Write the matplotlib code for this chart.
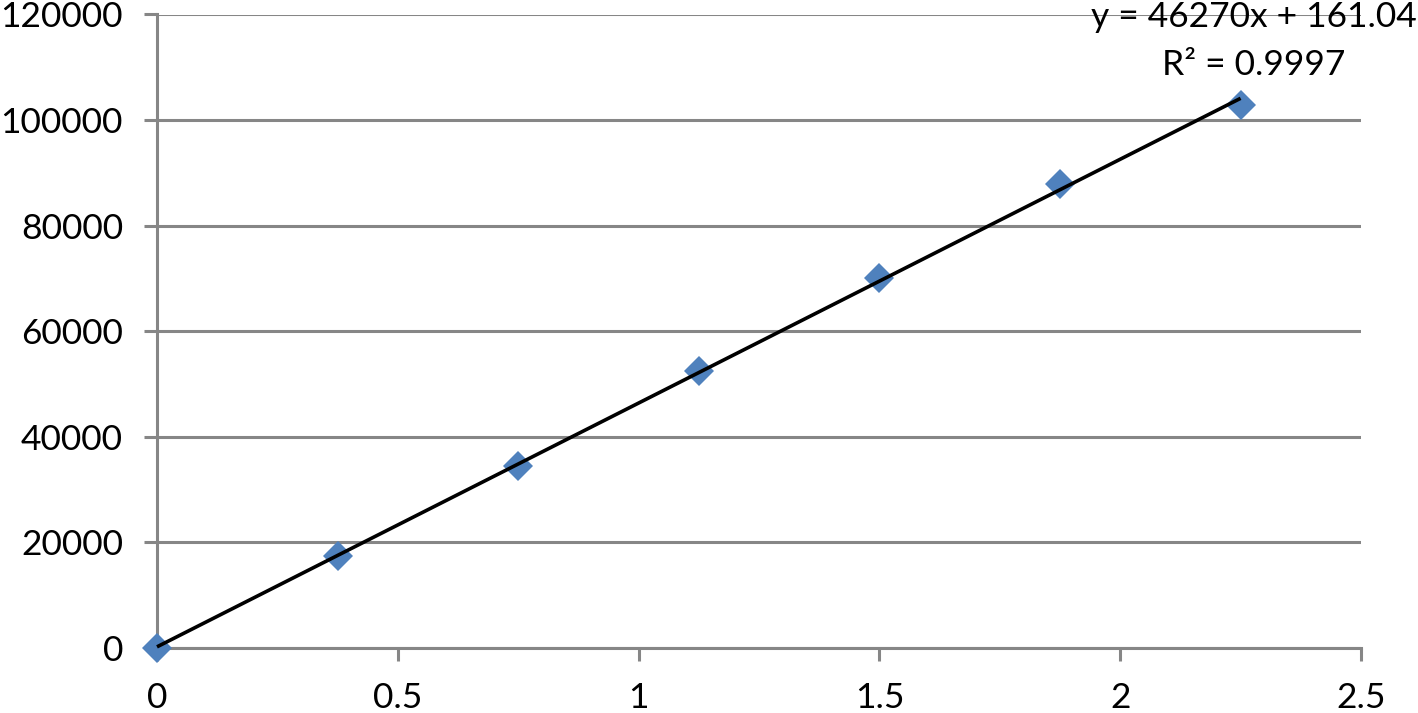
import numpy as np
import matplotlib
matplotlib.use("Agg")
import matplotlib.pyplot as plt

# Data
x_values = [0, 0.375, 0.75, 1.125, 1.5, 1.875, 2.25]
y_values = [0, 17500, 34500, 52400, 70100, 87800, 102900]
x_ticks = [0, 0.5, 1, 1.5, 2, 2.5]
x_tick_labels = ["0", "0.5", "1", "1.5", "2", "2.5"]
y_ticks = [0, 20000, 40000, 60000, 80000, 100000, 120000]
y_tick_labels = ["0", "20000", "40000", "60000", "80000", "100000", "120000"]
equation_line = "y = 46270x + 161.04"
r2_line = "R\u00b2 = 0.9997"

plt.rcParams['font.family'] = ['Lato', 'DejaVu Sans']

fig = plt.figure(figsize=(14.18, 7.13), dpi=100)
ax = fig.add_axes([157/1418, 1 - 648/713, (1361-157)/1418, (648-14.5)/713])

grid_color = "#868686"
ax.set_xlim(0, 2.5)
ax.set_ylim(0, 120000)
for yt in y_ticks:
    ax.axhline(yt, color=grid_color, lw=2.2, zorder=1)

# trend line
coef = np.polyfit(x_values, y_values, 1)
xt = np.array([min(x_values), max(x_values)])
ax.plot(xt, np.polyval(coef, xt), color="black", lw=2.6, zorder=3,
        solid_capstyle="butt", clip_on=False)

ax.plot(x_values, y_values, linestyle="none", marker="D", markersize=15.5,
        color="#4F81BD", markeredgewidth=0, zorder=2, clip_on=False)

for s in ["top", "right"]:
    ax.spines[s].set_visible(False)
for s in ["left", "bottom"]:
    ax.spines[s].set_color(grid_color)
    ax.spines[s].set_linewidth(2.2)
    ax.spines[s].set_zorder(1)

ax.set_xticks(x_ticks)
ax.set_xticklabels(x_tick_labels)
ax.set_yticks(y_ticks)
ax.set_yticklabels(y_tick_labels)
ax.tick_params(axis="both", direction="out", length=9.5, width=2.2, color=grid_color,
               labelsize=25.5, labelcolor="black", pad=15)

fig.text(1254/1418, 1 - 27/713, equation_line, ha="center", va="baseline", fontsize=25.5)
fig.text(1254/1418, 1 - 75/713, r2_line, ha="center", va="baseline", fontsize=25.5)

fig.savefig("out.png", dpi=100, facecolor="white")
